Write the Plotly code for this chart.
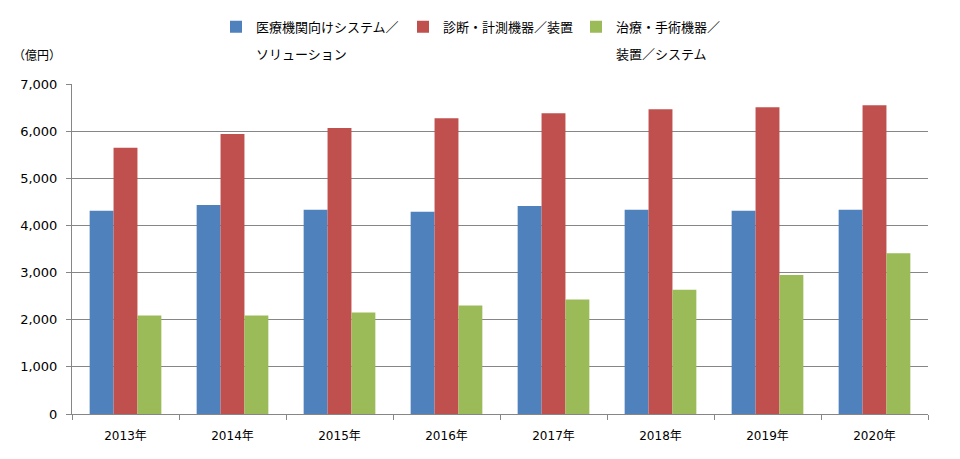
import plotly.graph_objects as go

years = ["2013年", "2014年", "2015年", "2016年", "2017年", "2018年", "2019年", "2020年"]
series_names = ["医療機関向けシステム／", "診断・計測機器／装置", "治療・手術機器／"]
series_second_lines = ["ソリューション", "", "装置／システム"]
medical_systems = [4310, 4435, 4331, 4289, 4414, 4331, 4310, 4331]
diagnostic_devices = [5650, 5941, 6067, 6276, 6381, 6464, 6506, 6548]
treatment_devices = [2092, 2092, 2155, 2301, 2427, 2636, 2950, 3410]
colors = ["#4F81BD", "#C0504D", "#9BBB59"]
y_ticks = [0, 1000, 2000, 3000, 4000, 5000, 6000, 7000]

W, H = 960, 459
L, R, T, B = 72, 32, 80, 45
pw, ph = W - L - R, H - T - B

def px_x(x):
    return (x - L) / pw

def px_y(y):
    return 1 + (T - y) / ph

font_main = "DejaVu Sans, Verdana, Noto Sans CJK JP, sans-serif"
font_cjk = "Noto Sans CJK JP, sans-serif"

fig = go.Figure()
values = [medical_systems, diagnostic_devices, treatment_devices]
legend_ids = ["legend", "legend2", "legend3"]
for name, second, vals, col, lg in zip(series_names, series_second_lines, values, colors, legend_ids):
    full = name + second
    fig.add_trace(go.Bar(
        x=years, y=vals, name=name, marker=dict(color=col, line=dict(width=0)),
        legend=lg, showlegend=True,
        hovertemplate=full + "<br>%{x}: %{y:,}<extra></extra>",
    ))

legend_x_px = [216, 403, 576]
legend_common = dict(orientation="h", yanchor="top", xanchor="left",
                     font=dict(family=font_cjk, size=13, color="#000000"),
                     bgcolor="rgba(0,0,0,0)", valign="top", itemwidth=30)
legends = {}
for lg, xp in zip(legend_ids, legend_x_px):
    legends[lg] = dict(x=px_x(xp), y=px_y(7), **legend_common)

annotations = [
    dict(text="（億円）", xref="paper", yref="paper", x=px_x(11), y=px_y(50),
         xanchor="left", yanchor="middle", showarrow=False,
         font=dict(family=font_cjk, size=12, color="#000000")),
]
second_x_px = [254, None, 614]
for s, xp in zip(series_second_lines, second_x_px):
    if s:
        annotations.append(dict(text=s, xref="paper", yref="paper", x=px_x(xp), y=px_y(49),
                                xanchor="left", yanchor="middle", showarrow=False,
                                font=dict(family=font_cjk, size=13, color="#000000")))

fig.update_layout(
    width=W, height=H,
    margin=dict(l=L, r=R, t=T, b=B, pad=0),
    paper_bgcolor="white", plot_bgcolor="white",
    barmode="group", bargap=0.33, bargroupgap=0,
    font=dict(family=font_main, size=12, color="#000000"),
    annotations=annotations, showlegend=True,
    **legends,
)
fig.update_xaxes(
    type="category", showline=True, linecolor="#868686", linewidth=1,
    ticks="outside", tickson="boundaries", ticklen=5, tickcolor="#868686",
    showgrid=False, tickfont=dict(family=font_main, size=12), ticklabelstandoff=11,
)
fig.update_yaxes(
    range=[0, 7000], tickvals=y_ticks, tickformat=",", showline=True,
    linecolor="#868686", linewidth=1, ticks="outside", ticklen=5, tickcolor="#868686",
    showgrid=True, gridcolor="#868686", gridwidth=1, zeroline=False,
    tickfont=dict(family=font_main, size=13), ticklabelstandoff=6,
)

fig.write_html("out.html", config={"displayModeBar": False},
               post_script="document.body.style.margin='0';document.body.style.padding='0';")
